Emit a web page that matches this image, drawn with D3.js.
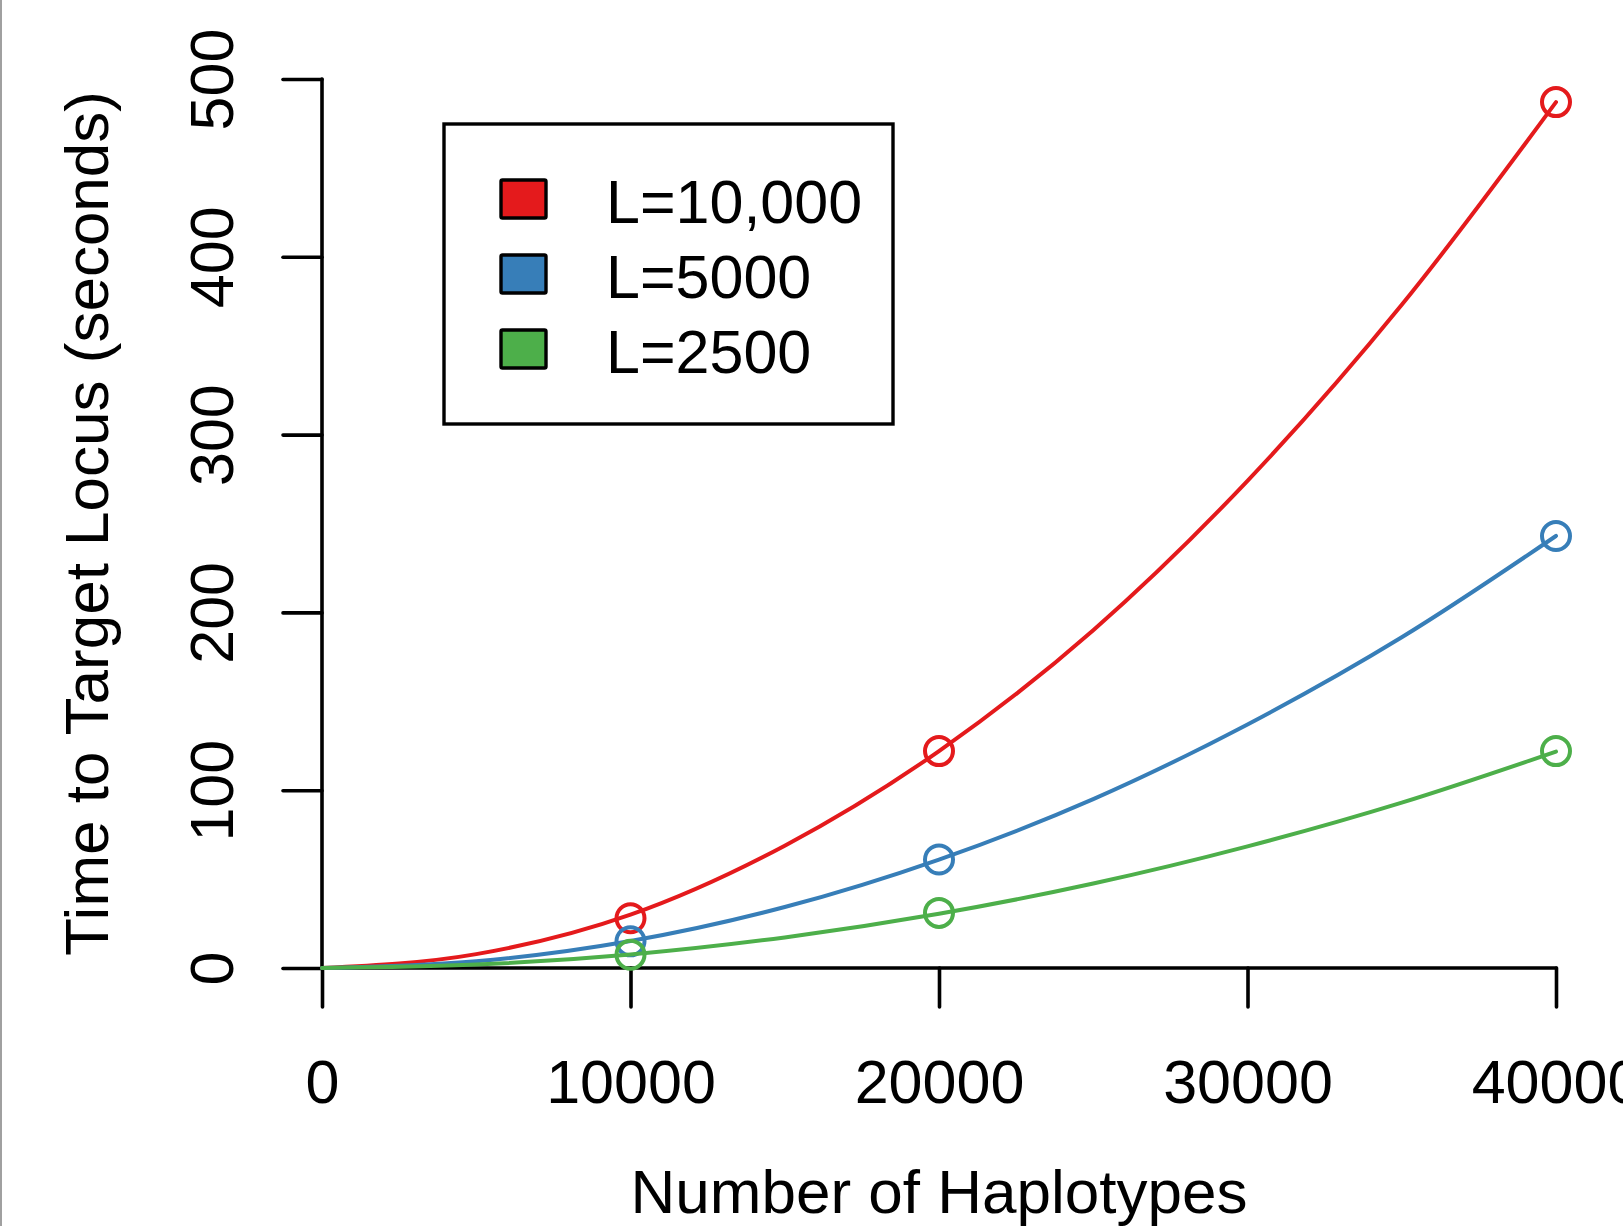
<!DOCTYPE html>
<html>
<head>
<meta charset="utf-8">
<script src="https://cdn.jsdelivr.net/npm/d3@7"></script>
<style>
html, body { margin: 0; padding: 0; background: #fff; }
svg { display: block; font-family: "Liberation Sans", Arial, Helvetica, sans-serif; }
</style>
</head>
<body>
<svg id="chart" width="1623" height="1226"></svg>
<script>
// ---- data ----
const xTicks = [0, 10000, 20000, 30000, 40000];
const yTicks = [0, 100, 200, 300, 400, 500];
const seriesNames = ["L=10,000", "L=5000", "L=2500"];
const seriesColors = ["#E41A1C", "#377EB8", "#4DAF4A"];
// measured points (circles)
const pointX = [10000, 20000, 40000];
const redPoints = [28, 122, 487];
const bluePoints = [15, 61, 243];
const greenPoints = [7.5, 31, 122];
// fitted curve, values
const curveX = [0, 5000, 10000, 15000, 20000, 25000, 30000, 35000, 40000];
const redCurve = [0, 7.8, 30, 68.8, 122, 190, 274, 373, 487];
const blueCurve = [0, 3.8, 15.2, 34.3, 61, 95, 137, 186, 243];
const greenCurve = [0, 1.9, 7.6, 17.2, 30.5, 47.5, 68.4, 93, 121.7];
const seriesPoints = [redPoints, bluePoints, greenPoints];
const seriesCurves = [redCurve, blueCurve, greenCurve];

// ---- layout ----
const svg = d3.select("#chart");
const W = 1623, H = 1226;
const x = d3.scaleLinear().domain([0, 40000]).range([322, 1556]);
const y = d3.scaleLinear().domain([0, 500]).range([968, 79]);

// gray edge line at left
svg.append("line").attr("x1", 1).attr("x2", 1).attr("y1", 0).attr("y2", H)
  .attr("stroke", "#a0a0a0").attr("stroke-width", 2);

// axes
const xAxis = svg.append("g").attr("transform", `translate(0,${y(0)})`)
  .call(d3.axisBottom(x).tickValues(xTicks).tickSize(39).tickPadding(16).tickFormat(d3.format("d")));
const yAxis = svg.append("g").attr("transform", `translate(${x(0)},0)`)
  .call(d3.axisLeft(y).tickValues(yTicks).tickSize(39).tickFormat(d3.format("d")));
[xAxis, yAxis].forEach(g => {
  g.select(".domain").attr("stroke", "#000").attr("stroke-width", 3.6)
    .attr("stroke-linecap", "round");
  g.selectAll(".tick line").attr("stroke", "#000").attr("stroke-width", 3.6)
    .attr("stroke-linecap", "round");
  g.selectAll("text").attr("fill", "#000").attr("font-size", 61)
    .attr("font-family", "Liberation Sans, Arial, sans-serif");
});
// R-style domain: only the span of the ticks
xAxis.select(".domain").attr("d", `M${x(0)},0H${x(40000)}`);
yAxis.select(".domain").attr("d", `M0,${y(0)}V${y(500)}`);
xAxis.selectAll(".tick text").attr("dy", null).attr("y", 135);
// rotate y labels (parallel to axis)
yAxis.selectAll(".tick text")
  .attr("x", null).attr("dy", null)
  .attr("text-anchor", "middle")
  .attr("transform", "translate(-89,0) rotate(-90)")
  .attr("y", 0);

// axis titles
svg.append("text").attr("x", (x(0) + x(40000)) / 2).attr("y", 1213)
  .attr("text-anchor", "middle").attr("font-size", 62).text("Number of Haplotypes");
svg.append("text").attr("transform", `translate(108,${(y(0) + y(500)) / 2}) rotate(-90)`)
  .attr("text-anchor", "middle").attr("font-size", 62).text("Time to Target Locus (seconds)");

// series
const line = d3.line().x(d => x(d[0])).y(d => y(d[1])).curve(d3.curveMonotoneX);
seriesCurves.forEach((vals, i) => {
  const pts = curveX.map((cx, j) => [cx, vals[j]]);
  svg.append("path").datum(pts).attr("d", line).attr("fill", "none")
    .attr("stroke", seriesColors[i]).attr("stroke-width", 4).attr("stroke-linecap", "round");
  svg.selectAll(null).data(pointX.map((px, j) => [px, seriesPoints[i][j]])).enter()
    .append("circle").attr("cx", d => x(d[0])).attr("cy", d => y(d[1])).attr("r", 14)
    .attr("fill", "none").attr("stroke", seriesColors[i]).attr("stroke-width", 4);
});

// legend
const lg = svg.append("g");
lg.append("rect").attr("x", 444).attr("y", 124).attr("width", 449).attr("height", 300)
  .attr("fill", "#fff").attr("stroke", "#000").attr("stroke-width", 3.4);
seriesNames.forEach((name, i) => {
  const yy = 180 + i * 75;
  lg.append("rect").attr("x", 501).attr("y", yy).attr("width", 45).attr("height", 38)
    .attr("rx", 1.5).attr("fill", seriesColors[i]).attr("stroke", "#000").attr("stroke-width", 3.4);
  lg.append("text").attr("x", 606).attr("y", yy + 43).attr("font-size", 61).text(name);
});
</script>
</body>
</html>
